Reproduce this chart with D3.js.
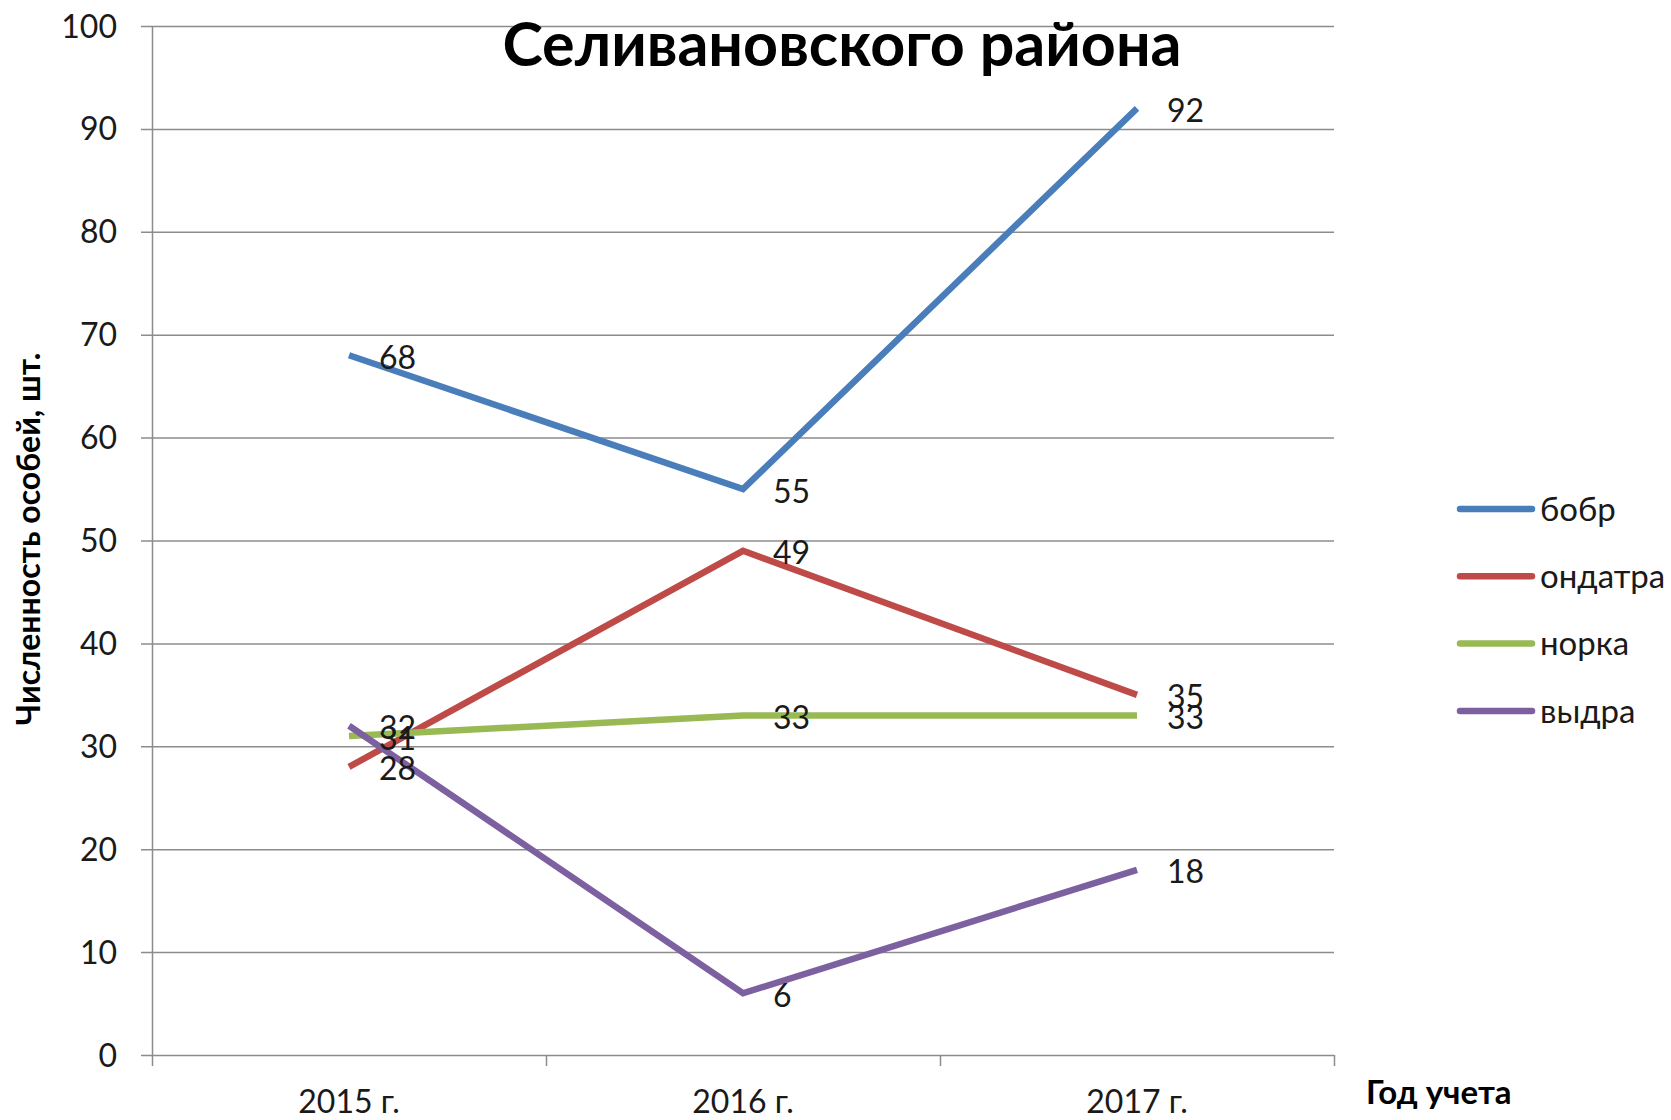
<!DOCTYPE html>
<html lang="ru">
<head>
  <meta charset="UTF-8">
  <title>Селивановского района</title>
  <script src="https://cdn.jsdelivr.net/npm/d3@7"></script>
  <style>
    html, body { margin: 0; padding: 0; background: #fff; }
    svg { display: block; font-family: Lato, "Open Sans", sans-serif; }
  </style>
</head>
<body>
  <div id="chart"></div>
  <script>
    const categories = ["2015 г.", "2016 г.", "2017 г."];
    const seriesNames = ["бобр", "ондатра", "норка", "выдра"];
    const beaver = [68, 55, 92];
    const muskrat = [28, 49, 35];
    const mink = [31, 33, 33];
    const otter = [32, 6, 18];
    const yTicks = [0, 10, 20, 30, 40, 50, 60, 70, 80, 90, 100];
    const colors = ["#4a7ebb", "#be4b48", "#98b954", "#7d60a0"];

    const series = [beaver, muskrat, mink, otter].map((values, i) => ({
      name: seriesNames[i],
      color: colors[i],
      values: values
    }));

    const w = 1671;
    const h = 1120;
    const plotLeft = 152, plotRight = 1334, plotTop = 26, plotBottom = 1055;

    const svg = d3.select("#chart")
      .append("svg")
      .attr("width", w)
      .attr("height", h);

    const xScale = d3.scaleBand()
      .domain(categories)
      .range([plotLeft, plotRight]);

    const yScale = d3.scaleLinear()
      .domain([0, 100])
      .range([plotBottom, plotTop]);

    // gridlines + y labels
    svg.append("g")
      .selectAll("line")
      .data(yTicks)
      .enter()
      .append("line")
      .attr("x1", plotLeft - 11)
      .attr("x2", plotRight)
      .attr("y1", d => yScale(d) + 0.5)
      .attr("y2", d => yScale(d) + 0.5)
      .attr("stroke", "#8c8c8c")
      .attr("stroke-width", 1.5);

    svg.append("g")
      .selectAll("text")
      .data(yTicks)
      .enter()
      .append("text")
      .attr("x", 117)
      .attr("y", d => yScale(d))
      .attr("dy", "0.36em")
      .attr("text-anchor", "end")
      .attr("font-size", 32)
      .attr("fill", "#1a1a1a")
      .text(d => d);

    // y axis line
    svg.append("line")
      .attr("x1", plotLeft + 0.5).attr("x2", plotLeft + 0.5)
      .attr("y1", plotTop).attr("y2", plotBottom)
      .attr("stroke", "#8c8c8c")
      .attr("stroke-width", 1.5);

    // x axis: ticks between categories
    const xAxis = d3.axisBottom(xScale).tickSize(0).tickPadding(0);
    const gx = svg.append("g")
      .attr("transform", "translate(0," + plotBottom + ")")
      .call(xAxis);
    gx.select(".domain").remove();
    gx.selectAll("text")
      .attr("y", 46)
      .attr("dy", "0.36em")
      .attr("font-family", "Lato, sans-serif")
      .attr("font-size", 32)
      .attr("fill", "#1a1a1a");

    const bounds = [xScale.range()[0]].concat(categories.map(c => xScale(c) + xScale.bandwidth()));
    svg.append("g")
      .selectAll("line")
      .data(bounds)
      .enter()
      .append("line")
      .attr("x1", d => d + 0.5)
      .attr("x2", d => d + 0.5)
      .attr("y1", plotBottom)
      .attr("y2", plotBottom + 11)
      .attr("stroke", "#8c8c8c")
      .attr("stroke-width", 1.5);

    // lines
    const xPos = i => xScale(categories[i]) + xScale.bandwidth() / 2;
    const line = d3.line()
      .x((d, i) => xPos(i))
      .y(d => yScale(d));

    svg.append("g")
      .selectAll("path")
      .data(series)
      .enter()
      .append("path")
      .attr("d", d => line(d.values))
      .attr("fill", "none")
      .attr("stroke", d => d.color)
      .attr("stroke-width", 6.5)
      .attr("stroke-linejoin", "miter")
      .attr("stroke-linecap", "butt");

    // data labels
    series.forEach(s => {
      svg.append("g")
        .selectAll("text")
        .data(s.values)
        .enter()
        .append("text")
        .attr("x", (d, i) => xPos(i) + 30)
        .attr("y", d => yScale(d) + 2)
        .attr("dy", "0.36em")
        .attr("font-size", 32)
        .attr("fill", "#1a1a1a")
        .text(d => d);
    });

    // title
    svg.append("text")
      .attr("x", 842)
      .attr("y", 66)
      .attr("text-anchor", "middle")
      .attr("font-size", 61)
      .attr("font-weight", "bold")
      .attr("fill", "#000")
      .text("Селивановского района");

    // axis titles
    svg.append("text")
      .attr("transform", "translate(40," + 539 + ") rotate(-90)")
      .attr("text-anchor", "middle")
      .attr("font-size", 32)
      .attr("font-weight", "bold")
      .attr("fill", "#000")
      .text("Численность особей, шт.");

    svg.append("text")
      .attr("x", 1366)
      .attr("y", 1092)
      .attr("dy", "0.36em")
      .attr("font-size", 33)
      .attr("font-weight", "bold")
      .attr("fill", "#000")
      .text("Год учета");

    // legend
    const legend = svg.append("g")
      .selectAll("g")
      .data(series)
      .enter()
      .append("g")
      .attr("transform", (d, i) => "translate(1460," + (509 + i * 67.3) + ")");

    legend.append("line")
      .attr("x1", 0).attr("x2", 72)
      .attr("y1", 0).attr("y2", 0)
      .attr("stroke", d => d.color)
      .attr("stroke-width", 6.5)
      .attr("stroke-linecap", "round");

    legend.append("text")
      .attr("x", 80)
      .attr("y", 0)
      .attr("dy", "0.36em")
      .attr("font-size", 33)
      .attr("fill", "#1a1a1a")
      .text(d => d.name);
  </script>
</body>
</html>
